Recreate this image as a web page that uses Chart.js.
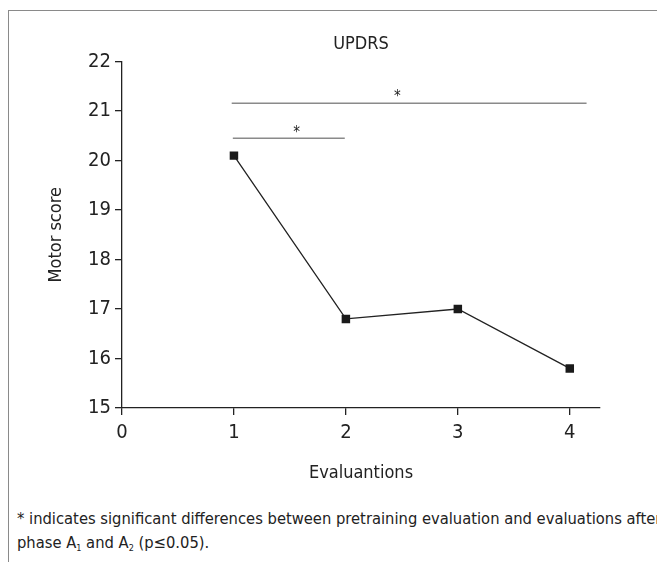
<!DOCTYPE html>
<html>
<head>
  <title>UPDRS</title>
  <script src="https://cdn.jsdelivr.net/npm/chart.js"></script>
  <style>
    body { margin: 0; background: #fff; width: 657px; height: 562px; overflow: hidden; }
    #frame { position: absolute; left: 8px; top: 10px; width: 700px; height: 600px;
             border-left: 1.5px solid #8a8a8a; border-top: 1.5px solid #8a8a8a; }
    #wrap { position: absolute; left: 0; top: 0; width: 657px; height: 490px; }
    #note { position: absolute; left: 17px; top: 507px; width: 700px; white-space: nowrap;
            font-family: 'DejaVu Sans Condensed', sans-serif;
            font-size: 16.4px; line-height: 24px; color: #222; }
    #note sub { font-size: 9px; vertical-align: -3px; line-height: 0; }
  </style>
</head>
<body>
  <div id="frame"></div>
  <div id="wrap"><canvas id="updrsChart"></canvas></div>
  <div id="note">* indicates significant differences between pretraining evaluation and evaluations after<br>phase A<sub>1</sub> and A<sub>2</sub> (p≤0.05).</div>
  <script>
    const FONT = "'DejaVu Sans Condensed', sans-serif";

    // data
    const evaluations = [1, 2, 3, 4];
    const motorScore = [20.1, 16.8, 17.0, 15.8];
    const xTicks = [0, 1, 2, 3, 4];
    // significance bars (x, y) and the stars above them
    const sigShort = [[0.99, 20.45], [1.99, 20.45]];
    const sigLong = [[0.98, 21.16], [4.15, 21.16]];
    const stars = [[1.56, 20.61], [2.46, 21.35]];

    const pts = evaluations.map((x, i) => ({ x: x, y: motorScore[i] }));
    const toXY = a => a.map(p => ({ x: p[0], y: p[1] }));

    const starPlugin = {
      id: 'stars',
      afterDatasetsDraw(chart) {
        const { ctx, scales: { x, y } } = chart;
        ctx.save();
        ctx.fillStyle = '#222';
        ctx.font = '15px ' + FONT;
        ctx.textAlign = 'center';
        ctx.textBaseline = 'middle';
        stars.forEach(s => ctx.fillText('*', x.getPixelForValue(s[0]), y.getPixelForValue(s[1]) + 3));
        ctx.restore();
      }
    };

    new Chart(document.getElementById('updrsChart'), {
      type: 'scatter',
      data: {
        datasets: [
          { data: pts, showLine: true, borderColor: '#222', borderWidth: 1.3,
            pointStyle: 'rect', pointRadius: 6, pointBackgroundColor: '#1a1a1a',
            pointBorderColor: '#1a1a1a', pointBorderWidth: 0 },
          { data: toXY(sigShort), showLine: true, borderColor: '#8a8a8a', borderWidth: 1.5, pointRadius: 0 },
          { data: toXY(sigLong), showLine: true, borderColor: '#8a8a8a', borderWidth: 1.5, pointRadius: 0 }
        ]
      },
      options: {
        responsive: true,
        maintainAspectRatio: false,
        animation: false,
        layout: { padding: { left: 0, right: 57, top: 0, bottom: 0 } },
        plugins: {
          legend: { display: false },
          tooltip: { enabled: false },
          title: { display: true, text: 'UPDRS', fullSize: false, color: '#222',
                   font: { family: FONT, size: 18, weight: 'normal' }, padding: { top: 34, bottom: 6 } }
        },
        scales: {
          x: {
            type: 'linear', min: 0, max: 4.27,
            afterBuildTicks: s => { s.ticks = xTicks.map(v => ({ value: v })); },
            afterFit: s => { s.height = 82; },
            ticks: { color: '#222', padding: 6, font: { family: FONT, size: 20 } },
            grid: { drawOnChartArea: false, drawTicks: true, tickLength: 7, color: '#222', lineWidth: 1.3 },
            border: { display: true, color: '#222', width: 1.3 },
            title: { display: true, text: 'Evaluantions', color: '#222', font: { family: FONT, size: 18 }, padding: { top: 8, bottom: 6 } }
          },
          y: {
            min: 15, max: 22,
            afterFit: s => { s.width = 122; },
            ticks: { stepSize: 1, color: '#222', padding: 4, font: { family: FONT, size: 20 } },
            grid: { drawOnChartArea: false, drawTicks: true, tickLength: 7, color: '#222', lineWidth: 1.3 },
            border: { display: true, color: '#222', width: 1.3 },
            title: { display: true, text: 'Motor score', color: '#222', font: { family: FONT, size: 18 }, padding: { top: 46, bottom: 0 } }
          }
        }
      },
      plugins: [starPlugin]
    });
  </script>
</body>
</html>
